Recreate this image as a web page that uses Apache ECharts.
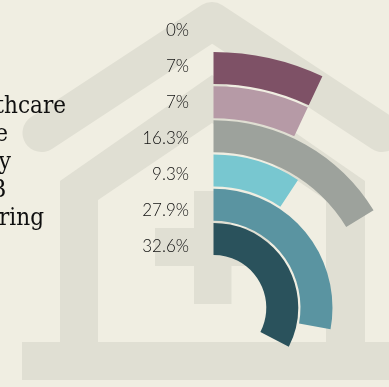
<!DOCTYPE html>
<html><head><meta charset="utf-8">
<style>html,body{margin:0;padding:0;background:#f0eee2}#c{width:389px;height:387px}</style>
<script src="https://cdn.jsdelivr.net/npm/echarts@6/dist/echarts.min.js"></script>
</head><body><div id="c"></div>
<script>
const categories = ['Other','Sector F','Sector E','Sector D','Sector C','Sector B','Sector A'];
const values = [0, 7, 7, 16.3, 9.3, 27.9, 32.6];
const tickLabels = ['0%','7%','7%','16.3%','9.3%','27.9%','32.6%'];
const colors = ['#7e5166','#7e5166','#b69aa6','#9da29c','#78c7d0','#5a94a1','#2a525c'];
const sideLabels = ['Healthcare','Finance','Technology','B2B','Engineering'];

const shapeFill = '#e0dfd3';
const chart = echarts.init(document.getElementById('c'), null, {renderer:'canvas'});
const bg = [
  {type:'polyline', z:0, shape:{points:[[41.5,133],[212,21],[382,133]]}, style:{stroke:shapeFill,lineWidth:38,lineCap:'round',lineJoin:'round',fill:null}},
  {type:'polygon', z:0, shape:{points:[[60,343],[60,181],[212,75],[365,181],[365,343],[326,343],[326,200],[212,123],[98,200],[98,343]]}, style:{fill:shapeFill}},
  {type:'rect', z:0, shape:{x:22,y:342,width:367,height:38}, style:{fill:shapeFill}},
  {type:'rect', z:0, shape:{x:194,y:191,width:37.5,height:113}, style:{fill:shapeFill}},
  {type:'rect', z:0, shape:{x:155,y:228,width:115,height:38}, style:{fill:shapeFill}}
];
const sideText = sideLabels.map((t,i)=>({type:'text', z:1,
  style:{text:t, x:[66,8,11,6,44][i], y:107+i*28, align:'right', verticalAlign:'middle',
    font:'condensed 24px "DejaVu Serif"', fill:'#0f0f0f'}}));
chart.setOption({
  backgroundColor:'#f0eee2',
  animation:false,
  graphic:{elements:bg.concat(sideText)},
  polar:{center:[213.5,307.7], radius:[51.7,291]},
  angleAxis:{type:'value', min:0, max:100, startAngle:90, clockwise:true, show:false},
  radiusAxis:{type:'category', data:categories.slice().reverse(), show:false},
  grid:{left:194, width:20, top:12, height:253, outerBoundsMode:'none'},
  xAxis:{type:'value', show:false},
  yAxis:{type:'category', inverse:true, data:tickLabels, axisLine:{show:false}, axisTick:{show:false},
    axisLabel:{margin:5, fontSize:17, fontFamily:'Lato', fontWeight:300, color:'#111111', interval:0}},
  series:[{type:'bar', coordinateSystem:'polar', barWidth:32, silent:true,
    data:values.map((v,i)=>({value:v,itemStyle:{color:colors[i]}})).reverse()},
    {type:'line', xAxisIndex:0, yAxisIndex:0, data:[], silent:true}]
});
</script></body></html>
